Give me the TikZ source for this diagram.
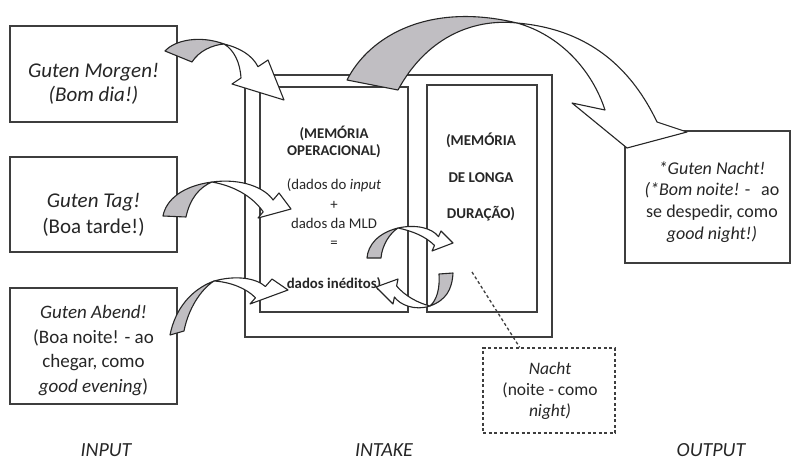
\documentclass[tikz,border=0pt]{standalone}
\usepackage{fontspec}
\setmainfont{Carlito}
\usetikzlibrary{calc}
\definecolor{ribbongray}{RGB}{192,190,194}
\definecolor{edgecol}{RGB}{62,62,62}
\begin{document}
\begin{tikzpicture}[x=1pt,y=-1pt,
  box/.style={draw=edgecol, line width=1.8pt, fill=white, inner sep=0pt},
  dashbox/.style={draw=edgecol, line width=1.3pt, dash pattern=on 3pt off 2.5pt, inner sep=0pt},
  txt/.style={align=center, inner sep=0pt, text=black!85},
  ribbon/.style={draw=black!85, line width=1.1pt, line join=round},
  under/.style={ribbon, fill=ribbongray},
  over/.style={ribbon, fill=white},
  lbl/.style={inner sep=0pt, text=black!85, font=\fontsize{20}{24}\selectfont\itshape}
]
\path[use as bounding box] (0,0) rectangle (793,463);

% boxes
\node[box, minimum width=307pt, minimum height=262pt] (intake) at (398.5,206) {};
\node[box, minimum width=148pt, minimum height=225pt] (mo) at (334,199.5) {};
\node[box, minimum width=110pt, minimum height=227pt] (mld) at (482,198.5) {};
\node[box, minimum width=167pt, minimum height=96pt] (morgen) at (93.5,74) {};
\node[box, minimum width=167pt, minimum height=95pt] (tag) at (93.5,204.5) {};
\node[box, minimum width=167pt, minimum height=116pt] (abend) at (93.5,346) {};
\node[box, minimum width=165pt, minimum height=132pt] (nacht) at (707.5,197) {};
\node[dashbox, minimum width=132pt, minimum height=85pt] (nachtnote) at (549,390.5) {};

% dotted connector
\coordinate (dotstart) at (472,272);
\draw[edgecol, line width=1.3pt, dash pattern=on 3pt off 2.5pt]
  (dotstart) -- ($(nachtnote.north west)!0.28!(nachtnote.north east)$);

% texts
\node[txt, font=\fontsize{21}{24.5}\selectfont\itshape] (morgenT) at (93.5,84) {Guten Morgen!\\(Bom dia!)};
\node[txt, font=\fontsize{21}{25.5}\selectfont] (tagT) at (93.5,215) {{\itshape Guten Tag!}\\(Boa tarde!)};
\node[txt, font=\fontsize{19}{24.5}\selectfont] (abendT) at (93.5,350.5) {{\itshape Guten Abend!}\\(Boa noite! - ao\\chegar, como\\{\itshape good evening})};
\node[txt, font=\fontsize{18}{21.7}\selectfont] (nachtT) at (712,202) {{\itshape *Guten Nacht!}\\{\itshape (*Bom noite!} -\hspace{0.6em}ao\\se despedir, como\\{\itshape good night!)}};
\node[txt, font=\fontsize{17.5}{21}\selectfont] (noteT) at (550,391) {{\itshape Nacht}\\(noite - como\\{\itshape night)}};
\node[txt, font=\fontsize{14.8}{17}\selectfont\bfseries] (moT1) at (334,142) {(MEMÓRIA\\OPERACIONAL)};
\node[txt, font=\fontsize{14.8}{19.3}\selectfont] (moT2) at (334,213.5) {(dados do \textit{input}\\+\\dados da MLD\\=};
\node[txt, font=\fontsize{14.8}{17}\selectfont\bfseries] (moT3) at (334,284) {dados inéditos)};
\node[txt, font=\fontsize{15}{36.5}\selectfont\bfseries] (mldT) at (481,177) {(MEMÓRIA\\DE LONGA\\DURAÇÃO)};

% bottom labels
\node[lbl] (linput) at (106,450) {INPUT};
\node[lbl] (lintake) at (384,450) {INTAKE};
\node[lbl] (loutput) at (711,450) {OUTPUT};

% arrow A (Guten Morgen)
\draw[under] (165,51) .. controls (175,40) and (200,35) .. (224,44)
  .. controls (212,45) and (199,51) .. (192,62) -- cycle;
\draw[over] (224,44) .. controls (240,48) and (252,55) .. (258,66.7)
  -- (268,60) -- (284,100) -- (232,84) -- (241,78)
  .. controls (240,62) and (234,50) .. (224,44) -- cycle;

% arrow B (Guten Tag)
\draw[under] (163,216) .. controls (166,200) and (182,186) .. (212,182)
  .. controls (200,187) and (190,198) .. (186,217) -- cycle;
\draw[over] (212,182) .. controls (242,178) and (265,188) .. (273.1,200)
  -- (279,193) -- (291,209) -- (258,218) -- (263.2,211.8)
  .. controls (252,196) and (234,186) .. (212,182) -- cycle;

% arrow C (Guten Abend)
\draw[under] (170,335) .. controls (175,310) and (190,290) .. (214,281)
  .. controls (200,290) and (188,310) .. (184,331) -- cycle;
\draw[over] (214,281) .. controls (236,275) and (256,278) .. (265.4,286.5)
  -- (272,279) -- (288,290) -- (250,304) -- (255.5,297.8)
  .. controls (246,288) and (230,282) .. (214,281) -- cycle;

% cycle arrow E1 (to long-term memory)
\draw[under] (367,258) .. controls (368,245) and (378,233) .. (398,228)
  .. controls (390,233) and (382,245) .. (381,258) -- cycle;
\draw[over] (398,228) .. controls (416,224) and (432,228) .. (438.5,236.6)
  -- (441,231) -- (453,243) -- (432,251) -- (434.5,245.4)
  .. controls (425,236) and (412,231) .. (398,228) -- cycle;

% cycle arrow E2 (back to working memory)
\draw[under] (453,273) .. controls (452,290) and (446,300) .. (430,306)
  .. controls (437,300) and (440,288) .. (439,274) -- cycle;
\draw[over] (430,306) .. controls (415,311) and (400,305) .. (394.4,297)
  -- (393,304) -- (376,287) -- (398,279) -- (396.6,286)
  .. controls (405,296) and (418,303) .. (430,306) -- cycle;

% big arrow D (to output)
\draw[under] (347,80) .. controls (370,35) and (430,2) .. (517,23)
  .. controls (470,18) and (425,40) .. (398,90) -- cycle;
\draw[over] (517,23) .. controls (575,28) and (625,55) .. (657,122)
  -- (687,132) -- (627,148) -- (572,103) -- (605,110)
  .. controls (592,70) and (560,35) .. (517,23) -- cycle;
\end{tikzpicture}
\end{document}
